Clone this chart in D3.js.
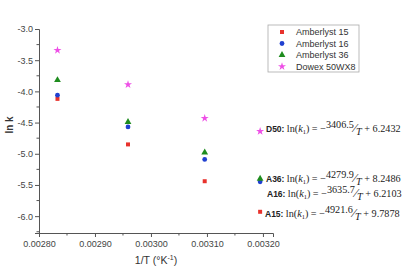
<!DOCTYPE html>
<html>
<head>
<meta charset="utf-8">
<script src="https://cdn.jsdelivr.net/npm/d3@7"></script>
<style>
  body { margin: 0; background: #fff; }
  svg { display: block; }
</style>
</head>
<body>
<div id="chart"></div>
<script>
// 1/T values (K^-1) for the four temperatures
const invT = [0.002833, 0.002959, 0.003096, 0.003195];

const seriesNames = ["Amberlyst 15", "Amberlyst 16", "Amberlyst 36", "Dowex 50WX8"];
const a15 = [-4.12, -4.85, -5.44, -5.93];
const a16 = [-4.06, -4.57, -5.09, -5.45];
const a36 = [-3.82, -4.49, -4.98, -5.40];
const d50 = [-3.34, -3.89, -4.43, -4.64];

const xTicks = [0.0028, 0.0029, 0.0030, 0.0031, 0.0032];
const yTicks = [-3.0, -3.5, -4.0, -4.5, -5.0, -5.5, -6.0];

// fitted equations: label, slope numerator, intercept
const eqLabels = ["D50:", "A36:", "A16:", "A15:"];
const eqSlopes = ["3406.5", "4279.9", "3635.7", "4921.6"];
const eqIntercepts = ["6.2432", "8.2486", "6.2103", "9.7878"];

const width = 409, height = 273;
const margin = { top: 29, right: 136, bottom: 40, left: 39 };

const svg = d3.select("#chart").append("svg")
    .attr("width", width)
    .attr("height", height);

const x = d3.scaleLinear()
    .domain([0.0028, 0.003218])
    .range([margin.left, width - margin.right]);

const y = d3.scaleLinear()
    .domain([-6.27, -3.0])
    .range([height - margin.bottom, margin.top]);

// axes with minor ticks
const xMinor = d3.range(0.00285, 0.00322, 0.0001);
const yMinor = d3.range(-3.25, -6.3, -0.5);

const xAxis = svg.append("g")
    .attr("transform", `translate(0,${height - margin.bottom})`)
    .call(d3.axisBottom(x).tickValues(xTicks).tickFormat(d3.format(".5f")).tickSizeOuter(0).tickSize(4));
xAxis.selectAll(".tick text")
    .attr("y", 8)
    .style("font-family", "Arial, 'Liberation Sans', sans-serif")
    .style("font-size", "9px")
    .attr("fill", "#444");
xAxis.append("g").selectAll("line")
    .data(xMinor)
    .join("line")
    .attr("x1", d => x(d)).attr("x2", d => x(d))
    .attr("y1", 0).attr("y2", 2.5)
    .attr("stroke", "#555");

const yAxis = svg.append("g")
    .attr("transform", `translate(${margin.left},0)`)
    .call(d3.axisLeft(y).tickValues(yTicks).tickFormat(d3.format(".1f")).tickSizeOuter(0).tickSize(4));
yAxis.selectAll(".tick text")
    .attr("x", -6)
    .style("font-family", "Arial, 'Liberation Sans', sans-serif")
    .style("font-size", "9px")
    .attr("fill", "#444")
    .text(d => d3.format(".1f")(d).replace("−", "-"));
yAxis.append("g").selectAll("line")
    .data(yMinor)
    .join("line")
    .attr("y1", d => y(d)).attr("y2", d => y(d))
    .attr("x1", 0).attr("x2", -2.5)
    .attr("stroke", "#555");

svg.selectAll(".domain, .tick line").attr("stroke", "#555");

// axis titles
svg.append("text")
    .attr("x", (margin.left + width - margin.right) / 2)
    .attr("y", 264)
    .attr("text-anchor", "middle")
    .style("font-family", "Arial, 'Liberation Sans', sans-serif")
    .style("font-size", "10.5px")
    .attr("fill", "#333")
    .html("1/T (°K<tspan dy='-4' font-size='7px'>-1</tspan><tspan dy='4'>)</tspan>");

svg.append("text")
    .attr("transform", "translate(13,125) rotate(-90)")
    .attr("text-anchor", "middle")
    .style("font-family", "Arial, 'Liberation Sans', sans-serif")
    .style("font-size", "10px")
    .style("font-weight", "bold")
    .attr("fill", "#333")
    .text("ln k");

// series
const series = [
    { name: seriesNames[0], values: a15, color: "#e8322c", symbol: d3.symbolSquare, size: 16 },
    { name: seriesNames[1], values: a16, color: "#2040d0", symbol: d3.symbolCircle, size: 18 },
    { name: seriesNames[2], values: a36, color: "#1e8c1e", symbol: d3.symbolTriangle, size: 20 },
    { name: seriesNames[3], values: d50, color: "#ee4fe6", symbol: d3.symbolStar, size: 20 }
];

series.forEach(s => {
    svg.append("g").selectAll("path")
        .data(s.values)
        .join("path")
        .attr("transform", (d, i) => `translate(${x(invT[i])},${y(d)})`)
        .attr("d", d3.symbol(s.symbol, s.size))
        .attr("fill", s.color);
});

// legend
const legend = svg.append("g");
legend.append("rect")
    .attr("x", 268).attr("y", 25)
    .attr("width", 91).attr("height", 47)
    .attr("fill", "#fff")
    .attr("stroke", "#aaa")
    .attr("stroke-width", 0.8);

series.forEach((s, i) => {
    const ly = 32 + i * 11.5;
    legend.append("path")
        .attr("transform", `translate(282,${ly})`)
        .attr("d", d3.symbol(s.symbol, s.size))
        .attr("fill", s.color);
    legend.append("text")
        .attr("x", 296).attr("y", ly + 3.2)
        .style("font-family", "Arial, 'Liberation Sans', sans-serif")
        .style("font-size", "9px")
        .attr("fill", "#333")
        .text(s.name);
});

// equations
const eqY = [132, 182, 197, 217];
const eqX = [266, 266, 267, 265];
eqLabels.forEach((lab, i) => {
    const t = svg.append("text")
        .attr("x", eqX[i]).attr("y", eqY[i])
        .attr("fill", "#222");
    t.append("tspan")
        .style("font-family", "Arial, 'Liberation Sans', sans-serif")
        .style("font-weight", "bold")
        .style("font-size", "8.5px")
        .text(lab + " ");
    const serif = "'Liberation Serif', 'Times New Roman', serif";
    const fs = "10.2px";
    t.append("tspan").style("font-family", serif).style("font-size", fs).text("ln(");
    t.append("tspan").style("font-family", serif).style("font-size", fs).style("font-style", "italic").text("k");
    t.append("tspan").style("font-family", serif).style("font-size", "6.5px").attr("dy", 2).text("1");
    t.append("tspan").style("font-family", serif).style("font-size", fs).attr("dy", -2).text(") = −");
    t.append("tspan").style("font-family", serif).style("font-size", fs).attr("dy", -4).text(eqSlopes[i]);
    t.append("tspan").style("font-family", serif).style("font-size", "13px").attr("dy", 4).text("⁄");
    t.append("tspan").style("font-family", serif).style("font-size", fs).style("font-style", "italic").attr("dy", 3).text("T");
    t.append("tspan").style("font-family", serif).style("font-size", fs).attr("dy", -3).text(" + " + eqIntercepts[i]);
});
</script>
</body>
</html>
